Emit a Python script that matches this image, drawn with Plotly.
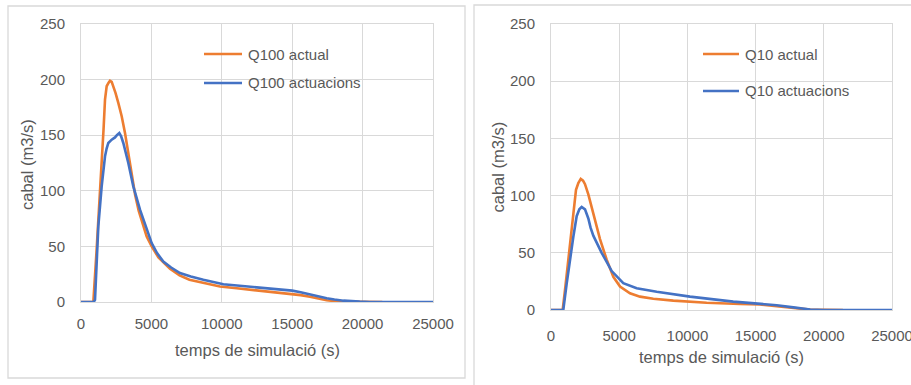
import plotly.graph_objects as go

# ---------------- data ----------------
# Left chart: Q100
t_q100_actual = [0, 876, 1100, 1300, 1468, 1600, 1705, 1823, 1950, 2060, 2180, 2295, 2450,
                 2650, 2890, 3125, 3360, 3600, 3850, 4100, 4400, 4665, 5020, 5500, 6320,
                 7000, 7700, 8690, 9870, 11060, 12710, 13420, 14300, 15000, 15600, 16260,
                 16900, 17450, 18000, 18640, 19800, 21400]
q100_actual = [0, 0, 45, 85, 119, 155, 182, 194, 197, 199, 198, 194, 188,
               179, 167, 152, 134, 114, 96, 82, 69, 59, 50, 40, 30,
               24, 20, 17, 14, 12.3, 10.2, 9.3, 8.5, 7.2, 6.2, 4.8,
               3.0, 1.5, 0.9, 0.5, 0.2, 0]

t_q100_actuacions = [0, 900, 995, 1230, 1468, 1600, 1705, 1820, 1940, 2180, 2415, 2550, 2720,
                     2850, 3005, 3360, 3715, 4190, 4665, 5020, 5400, 5845, 6400, 7030, 7800,
                     8690, 10110, 11500, 12710, 13420, 14130, 15000, 15600, 16260, 16900,
                     17450, 18000, 18640, 19800, 20500, 25000]
q100_actuacions = [0, 0, 2, 68, 104, 120, 131, 138, 143, 146, 148, 150, 152,
                   149, 143, 125, 104, 83, 65, 53, 44, 36.4, 31, 26, 23,
                   20, 16, 14.5, 12.9, 12.3, 11.7, 10.2, 8.8, 6.6, 4.8,
                   3.3, 2.2, 1.2, 0.3, 0, 0]

# Right chart: Q10
t_q10_actual = [0, 857, 1050, 1270, 1450, 1637, 1833, 2004, 2180, 2350, 2493, 2737, 2900,
                3103, 3350, 3592, 4082, 4570, 5060, 5790, 6525, 7500, 8970, 10200, 11410,
                13860, 15320, 16550, 17765, 19000, 20000, 21400]
q10_actual = [0, 0, 20, 44, 66, 88, 105, 111, 114.6, 113, 110, 101, 94,
              85, 73, 62, 44, 29, 20.5, 14.6, 11.7, 9.8, 8.2, 7.2, 6.4,
              5.3, 4.8, 3.3, 1.5, 0.3, 0.1, 0]

t_q10_actuacions = [0, 900, 1150, 1390, 1637, 1882, 2077, 2250, 2493, 2737, 2900, 3103,
                    3400, 3715, 4082, 4450, 5300, 6280, 7750, 10190, 13360, 15320, 16550,
                    17765, 19000, 20000, 25000]
q10_actuacions = [0, 0, 23, 44, 64, 82, 88, 90, 88, 80, 72, 65,
                  57, 50, 42, 34, 23.4, 19, 16, 11.7, 7.3, 5.6, 4.2,
                  2.3, 0.5, 0, 0]

series_names_left = ["Q100 actual", "Q100 actuacions"]
series_names_right = ["Q10 actual", "Q10 actuacions"]
x_title = "temps de simulació (s)"
y_title = "cabal (m3/s)"

# ---------------- styling ----------------
W, H = 911, 385
ORANGE = "#ED7D31"
BLUE = "#4472C4"
GRID = "#D9D9D9"
TXT = "#595959"
FONT = "Liberation Sans, Arial, sans-serif"
LW = 2.6


def px(x):
    return x / W


def py(y):
    return 1 - y / H


fig = go.Figure()

fig.add_trace(go.Scatter(x=t_q100_actual, y=q100_actual, mode="lines",
                         line=dict(color=ORANGE, width=LW), name=series_names_left[0],
                         xaxis="x", yaxis="y", showlegend=False))
fig.add_trace(go.Scatter(x=t_q100_actuacions, y=q100_actuacions, mode="lines",
                         line=dict(color=BLUE, width=LW), name=series_names_left[1],
                         xaxis="x", yaxis="y", showlegend=False))
fig.add_trace(go.Scatter(x=t_q10_actual, y=q10_actual, mode="lines",
                         line=dict(color=ORANGE, width=LW), name=series_names_right[0],
                         xaxis="x2", yaxis="y2", showlegend=False))
fig.add_trace(go.Scatter(x=t_q10_actuacions, y=q10_actuacions, mode="lines",
                         line=dict(color=BLUE, width=LW), name=series_names_right[1],
                         xaxis="x2", yaxis="y2", showlegend=False))

axis_common = dict(showgrid=True, gridcolor=GRID, gridwidth=1, zeroline=False,
                   showline=True, linecolor=GRID, linewidth=1, mirror=True,
                   ticks="", tickformat="d", automargin=False,
                   tickfont=dict(family=FONT, size=15, color=TXT))

fig.update_layout(
    template="none",
    width=W, height=H, autosize=False,
    margin=dict(l=0, r=0, t=0, b=0, pad=0),
    paper_bgcolor="white", plot_bgcolor="white",
    font=dict(family=FONT, color=TXT),
    xaxis=dict(domain=[px(81), px(433)], range=[0, 25000], dtick=5000, anchor="y",
               ticklabelstandoff=8, ticklabeloverflow="allow", **axis_common),
    yaxis=dict(domain=[py(302), py(24)], range=[0, 250], dtick=50, anchor="x",
               ticklabelstandoff=12, **axis_common),
    xaxis2=dict(domain=[px(551), px(892)], range=[0, 25000], dtick=5000, anchor="y2",
                ticklabelstandoff=12, ticklabeloverflow="allow", **axis_common),
    yaxis2=dict(domain=[py(310), py(24)], range=[0, 250], dtick=50, anchor="x2",
                ticklabelstandoff=12, **axis_common),
    showlegend=False,
)

shapes = [
    # panel borders
    dict(type="rect", xref="paper", yref="paper", x0=px(8), x1=px(465), y0=py(378), y1=py(6),
         line=dict(color=GRID, width=1.3), fillcolor="rgba(0,0,0,0)", layer="below"),
    dict(type="rect", xref="paper", yref="paper", x0=px(474), x1=px(915), y0=py(392), y1=py(5),
         line=dict(color=GRID, width=1.3), fillcolor="rgba(0,0,0,0)", layer="below"),
    # legend keys
    dict(type="line", xref="paper", yref="paper", x0=px(204), x1=px(242), y0=py(54), y1=py(54),
         line=dict(color=ORANGE, width=LW)),
    dict(type="line", xref="paper", yref="paper", x0=px(204), x1=px(242), y0=py(83), y1=py(83),
         line=dict(color=BLUE, width=LW)),
    dict(type="line", xref="paper", yref="paper", x0=px(703), x1=px(739), y0=py(54), y1=py(54),
         line=dict(color=ORANGE, width=LW)),
    dict(type="line", xref="paper", yref="paper", x0=px(703), x1=px(739), y0=py(91), y1=py(91),
         line=dict(color=BLUE, width=LW)),
]

leg_font = dict(family=FONT, size=15, color=TXT)
title_font = dict(family=FONT, size=16.5, color=TXT)
annotations = [
    dict(text=series_names_left[0], x=px(246), y=py(54), xref="paper", yref="paper",
         xanchor="left", yanchor="middle", showarrow=False, font=leg_font),
    dict(text=series_names_left[1], x=px(246), y=py(83), xref="paper", yref="paper",
         xanchor="left", yanchor="middle", showarrow=False, font=leg_font),
    dict(text=series_names_right[0], x=px(743), y=py(54), xref="paper", yref="paper",
         xanchor="left", yanchor="middle", showarrow=False, font=leg_font),
    dict(text=series_names_right[1], x=px(743), y=py(91), xref="paper", yref="paper",
         xanchor="left", yanchor="middle", showarrow=False, font=leg_font),
    # axis titles
    dict(text=x_title, x=px(257), y=py(350), xref="paper", yref="paper",
         xanchor="center", yanchor="middle", showarrow=False, font=title_font),
    dict(text=x_title, x=px(721.5), y=py(357), xref="paper", yref="paper",
         xanchor="center", yanchor="middle", showarrow=False, font=title_font),
    dict(text=y_title, x=px(27), y=py(165), xref="paper", yref="paper", textangle=-90,
         xanchor="center", yanchor="middle", showarrow=False, font=title_font),
    dict(text=y_title, x=px(497), y=py(167.5), xref="paper", yref="paper", textangle=-90,
         xanchor="center", yanchor="middle", showarrow=False, font=title_font),
]

fig.update_layout(shapes=shapes, annotations=annotations)

post = (
    "document.body.style.margin='0px';"
    "document.body.style.padding='0px';"
    "document.body.style.overflow='hidden';"
)

fig.write_html("out.html", config={"responsive": False, "displayModeBar": False},
               post_script=post)
